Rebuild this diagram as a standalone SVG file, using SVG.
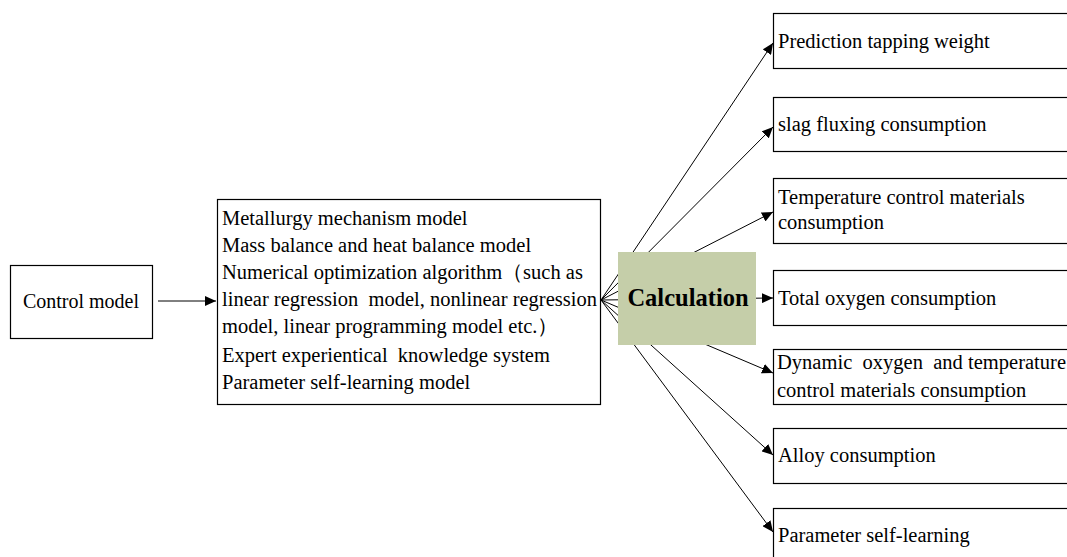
<svg xmlns="http://www.w3.org/2000/svg" width="1067" height="557" viewBox="0 0 1067 557">
<style>
.box{fill:#fff;stroke:#000;stroke-width:1.2}
.t{font-family:"Liberation Serif","Times New Roman",serif;font-size:20.5px;fill:#000;white-space:pre}
.c{stroke:#000;stroke-width:1;fill:none;marker-end:url(#ah)}
.calc{font-weight:bold;font-size:24.5px}
.ctl{font-size:20px}
</style>
<defs>
<marker id="ah" markerUnits="userSpaceOnUse" markerWidth="12" markerHeight="10" refX="11" refY="5" orient="auto">
<path d="M0,0 L11,5 L0,10 Z" fill="#000"/>
</marker>
</defs>
<rect width="1067" height="557" fill="#fff"/>
<g id="connectors">
<line class="c" x1="158" y1="301" x2="216" y2="301"/>
<line class="c" x1="601" y1="300" x2="773" y2="43"/>
<line class="c" x1="601" y1="300" x2="773" y2="127"/>
<line class="c" x1="601" y1="300" x2="773" y2="212"/>
<line class="c" x1="601" y1="300" x2="773" y2="298"/>
<line class="c" x1="601" y1="300" x2="773" y2="373"/>
<line class="c" x1="601" y1="300" x2="773" y2="455"/>
<line class="c" x1="601" y1="300" x2="773" y2="532"/>
</g>
<g id="control">
<rect class="box" x="10.5" y="265.5" width="142" height="73"/>
<text class="t ctl" x="81" y="308" text-anchor="middle">Control model</text>
</g>
<g id="models">
<rect class="box" x="217.5" y="199.5" width="383" height="205"/>
<text class="t" x="222" y="225">Metallurgy mechanism model</text>
<text class="t" x="222" y="252">Mass balance and heat balance model</text>
<text class="t" x="222" y="279">Numerical optimization algorithm（such as</text>
<text class="t" x="222" y="306" textLength="375">linear regression  model, nonlinear regression</text>
<text class="t" x="222" y="333">model, linear programming model etc.）</text>
<text class="t" x="222" y="362">Expert experientical  knowledge system</text>
<text class="t" x="222" y="389">Parameter self-learning model</text>
</g>
<g id="calculation">
<rect x="618" y="252" width="138" height="93" fill="#c5cea9"/>
<text class="t calc" x="688" y="306" text-anchor="middle">Calculation</text>
</g>
<g id="out1">
<rect class="box" x="773.5" y="13.5" width="300" height="55"/>
<text class="t" x="778" y="48">Prediction tapping weight</text>
</g>
<g id="out2">
<rect class="box" x="773.5" y="97.5" width="300" height="54"/>
<text class="t" x="778" y="131">slag fluxing consumption</text>
</g>
<g id="out3">
<rect class="box" x="773.5" y="178.5" width="300" height="65"/>
<text class="t" x="778" y="204">Temperature control materials</text>
<text class="t" x="778" y="229">consumption</text>
</g>
<g id="out4">
<rect class="box" x="773.5" y="270.5" width="300" height="55"/>
<text class="t" x="778" y="305">Total oxygen consumption</text>
</g>
<g id="out5">
<rect class="box" x="773.5" y="349.5" width="300" height="55"/>
<text class="t" x="777" y="369" textLength="289">Dynamic  oxygen  and temperature</text>
<text class="t" x="777" y="397">control materials consumption</text>
</g>
<g id="out6">
<rect class="box" x="773.5" y="428.5" width="300" height="55"/>
<text class="t" x="778" y="462">Alloy consumption</text>
</g>
<g id="out7">
<rect class="box" x="773.5" y="508.5" width="300" height="60"/>
<text class="t" x="778" y="542">Parameter self-learning</text>
</g>
</svg>
